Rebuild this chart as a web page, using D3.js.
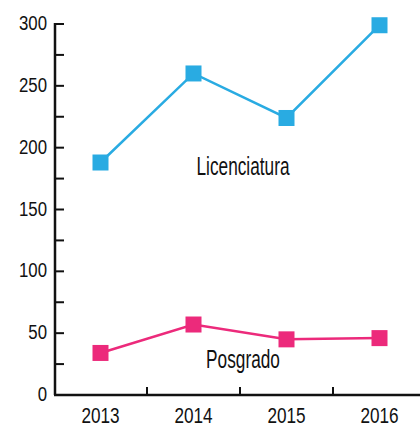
<!DOCTYPE html>
<html>
<head>
<meta charset="utf-8">
<script src="https://cdn.jsdelivr.net/npm/d3@7"></script>
<style>
  body { margin: 0; background: #fff; }
  svg text { font-family: "Liberation Sans", Arial, sans-serif; fill: #111; }
</style>
</head>
<body>
<svg></svg>
<script>
(() => {
    const years = ["2013", "2014", "2015", "2016"];
    const licenciatura = [188, 260, 224, 299];
    const posgrado = [34, 57, 45, 46];
    const yTicks = [0, 50, 100, 150, 200, 250, 300];
    const seriesNames = ["Licenciatura", "Posgrado"];

    const width = 420;
    const height = 426;

    const xScale = d3.scaleBand()
        .domain(years)
        .range([54, 426]);

    const yScale = d3.scaleLinear()
        .domain([0, 300])
        .range([395, 24]);

    const svg = d3.select("svg")
        .attr("width", width)
        .attr("height", height);

    // condensed look: squeeze text horizontally
    const narrowText = (sel, size, squeeze) => sel
        .attr("font-size", size)
        .attr("transform", function () {
            const t = d3.select(this);
            return `translate(${t.attr("x")},${t.attr("y")}) scale(${squeeze},1)`;
        })
        .attr("x", 0).attr("y", 0);

    // y axis: minor ticks every 25, labels every 50
    const yAxis = svg.append("g").attr("transform", "translate(55,0)");
    yAxis.append("line")
        .attr("y1", yScale(300) - 1).attr("y2", yScale(0))
        .attr("stroke", "#111").attr("stroke-width", 2.5);
    yAxis.selectAll("line.tick")
        .data(d3.range(0, 301, 25))
        .enter().append("line")
        .attr("class", "tick")
        .attr("x1", 0).attr("x2", 9)
        .attr("y1", d => yScale(d)).attr("y2", d => yScale(d))
        .attr("stroke", "#111").attr("stroke-width", 2);
    yAxis.selectAll("text")
        .data(yTicks)
        .enter().append("text")
        .attr("x", -8)
        .attr("y", d => yScale(d) + 6)
        .attr("text-anchor", "end")
        .call(narrowText, 21, 0.8)
        .text(d => d);

    // x axis: ticks at band boundaries
    const xAxis = svg.append("g");
    xAxis.append("line")
        .attr("x1", 54).attr("x2", width)
        .attr("y1", yScale(0)).attr("y2", yScale(0))
        .attr("stroke", "#111").attr("stroke-width", 2.5);
    xAxis.selectAll("line.tick")
        .data(years.slice(1))
        .enter().append("line")
        .attr("class", "tick")
        .attr("x1", d => xScale(d)).attr("x2", d => xScale(d))
        .attr("y1", yScale(0)).attr("y2", yScale(0) - 8)
        .attr("stroke", "#111").attr("stroke-width", 2);
    xAxis.selectAll("text")
        .data(years)
        .enter().append("text")
        .attr("x", d => xScale(d) + xScale.bandwidth() / 2)
        .attr("y", yScale(0) + 28)
        .attr("text-anchor", "middle")
        .call(narrowText, 22, 0.78)
        .text(d => d);

    const line = d3.line()
        .x(d => xScale(d.year) + xScale.bandwidth() / 2)
        .y(d => yScale(d.value));

    const createSeries = (values, color, name, labelValue) => {
        const data = values.map((v, i) => ({ year: years[i], value: v }));
        svg.append("path")
            .datum(data)
            .attr("fill", "none")
            .attr("stroke", color)
            .attr("stroke-width", 2.5)
            .attr("d", line);
        svg.selectAll(null)
            .data(data)
            .enter().append("rect")
            .attr("x", d => xScale(d.year) + xScale.bandwidth() / 2 - 8)
            .attr("y", d => yScale(d.value) - 8)
            .attr("width", 16).attr("height", 16)
            .attr("fill", color);
        svg.append("text")
            .attr("x", (xScale("2014") + xScale("2015") + xScale.bandwidth()) / 2 + 3)
            .attr("y", yScale(labelValue))
            .attr("text-anchor", "middle")
            .call(narrowText, 25, 0.69)
            .text(name);
    };

    createSeries(licenciatura, "#29abe2", seriesNames[0], 178);
    createSeries(posgrado, "#ec2a7b", seriesNames[1], 22);
})();
</script>
</body>
</html>
